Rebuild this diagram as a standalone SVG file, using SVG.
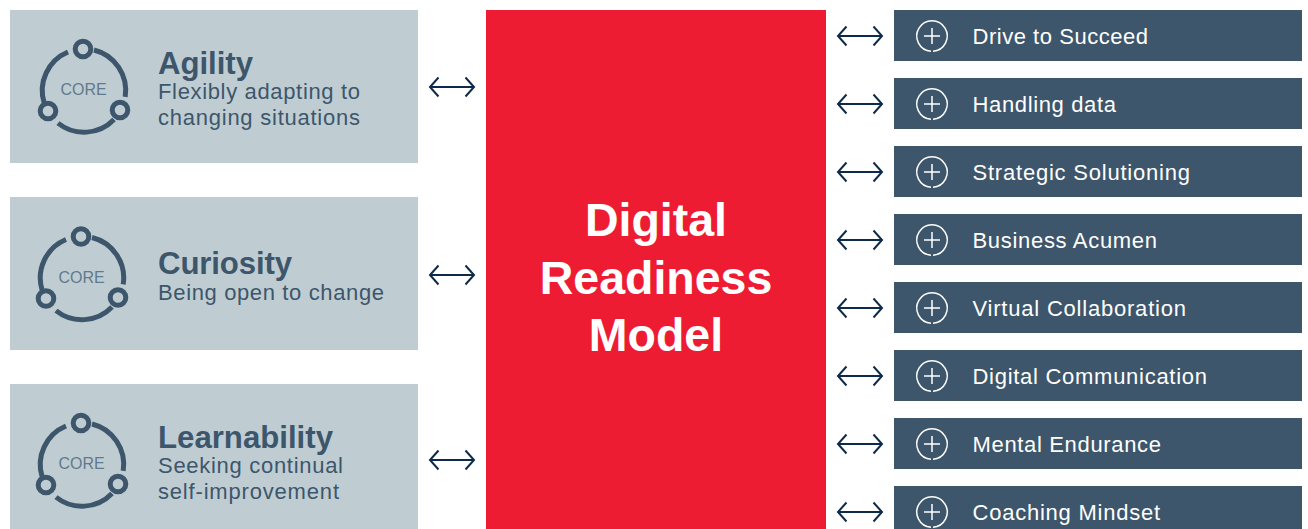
<svg xmlns="http://www.w3.org/2000/svg" xmlns:xlink="http://www.w3.org/1999/xlink" width="1308" height="529" viewBox="0 0 1308 529">
<style>
text{font-family:"Liberation Sans",Arial,sans-serif}
.pale{fill:#bfcdd2}
.dark{fill:#3d566b}
.title{font-size:31.200px;font-weight:700;fill:#3d566b}
.sub{font-size:22px;fill:#3d566b}
.core{font-size:16px;fill:#5f7a8c;text-anchor:middle}
.lab{font-size:22px;fill:#fff}
.big{font-size:46.500px;font-weight:700;fill:#fff;text-anchor:middle}
.ring{fill:none;stroke:#3d566b;stroke-width:5}
.thin{fill:none;stroke:#fff;stroke-width:1.5}
.arr{fill:none;stroke:#0e2a4a;stroke-width:2}
</style>
<defs>
<g id="icon">
<path class="ring" d="M94 50 A41.700 41.700 0 0 1 125.200 96.900"/>
<path class="ring" d="M114 119.500 A41.700 41.700 0 0 1 58 123.100"/>
<path class="ring" d="M44.200 103 A41.700 41.700 0 0 1 68 52"/>
<circle class="ring" cx="83" cy="49" r="7.800"/>
<circle class="ring" cx="48" cy="111" r="7.800"/>
<circle class="ring" cx="120" cy="110" r="7.800"/>
<text class="core" x="83.500" y="95">CORE</text>
</g>
<g id="plus">
<path class="thin" d="M-1 15.200 A15.200 15.200 0 1 1 1 15.200"/>
<path class="thin" d="M-8 0H8M0-8V8"/>
</g>
<path id="arrow" class="arr" d="M9.500-9.500 L1 0 L9.500 9.500 M1 0 H45 M36.500-9.500 L45 0 L36.500 9.500"/>
</defs>
<g id="connectors">
<use xlink:href="#arrow" href="#arrow" x="429" y="87"/>
<use xlink:href="#arrow" href="#arrow" x="429" y="275"/>
<use xlink:href="#arrow" href="#arrow" x="429" y="460"/>
<use xlink:href="#arrow" href="#arrow" x="837" y="36"/>
<use xlink:href="#arrow" href="#arrow" x="837" y="104"/>
<use xlink:href="#arrow" href="#arrow" x="837" y="172"/>
<use xlink:href="#arrow" href="#arrow" x="837" y="240"/>
<use xlink:href="#arrow" href="#arrow" x="837" y="308"/>
<use xlink:href="#arrow" href="#arrow" x="837" y="376"/>
<use xlink:href="#arrow" href="#arrow" x="837" y="444"/>
<use xlink:href="#arrow" href="#arrow" x="837" y="512"/>
</g>
<g id="agility"><rect class="pale" x="10" y="10" width="408" height="153"/><use xlink:href="#icon" href="#icon"/><text class="title" x="158" y="74" textLength="95">Agility</text><text class="sub" x="158" y="99" textLength="202">Flexibly adapting to</text><text class="sub" x="158" y="125" textLength="202">changing situations</text></g>
<g id="curiosity"><rect class="pale" x="10" y="197" width="408" height="153"/><use xlink:href="#icon" href="#icon" x="-2" y="187.500"/><text class="title" x="158" y="274" textLength="134">Curiosity</text><text class="sub" x="158" y="300" textLength="226">Being open to change</text></g>
<g id="learnability"><rect class="pale" x="10" y="384" width="408" height="145"/><use xlink:href="#icon" href="#icon" x="-2" y="374"/><text class="title" x="158" y="448" textLength="175">Learnability</text><text class="sub" x="158" y="473" textLength="185">Seeking continual</text><text class="sub" x="158" y="499" textLength="181">self-improvement</text></g>
<g id="model"><rect x="486" y="10" width="340" height="519" fill="#ee1c32"/><text class="big" x="656" y="236">Digital</text><text class="big" x="656" y="294">Readiness</text><text class="big" x="656" y="351">Model</text></g>
<g id="drive"><rect class="dark" x="894" y="10" width="408" height="51"/><use xlink:href="#plus" href="#plus" x="932" y="36"/><text class="lab" x="972.500" y="44" textLength="175.500">Drive to Succeed</text></g>
<g id="data"><rect class="dark" x="894" y="78" width="408" height="51"/><use xlink:href="#plus" href="#plus" x="932" y="104"/><text class="lab" x="972.500" y="112" textLength="143.500">Handling data</text></g>
<g id="strategic"><rect class="dark" x="894" y="146" width="408" height="51"/><use xlink:href="#plus" href="#plus" x="932" y="172"/><text class="lab" x="972.500" y="180" textLength="217.500">Strategic Solutioning</text></g>
<g id="business"><rect class="dark" x="894" y="214" width="408" height="51"/><use xlink:href="#plus" href="#plus" x="932" y="240"/><text class="lab" x="972.500" y="248" textLength="184.500">Business Acumen</text></g>
<g id="virtual"><rect class="dark" x="894" y="282" width="408" height="51"/><use xlink:href="#plus" href="#plus" x="932" y="308"/><text class="lab" x="972.500" y="316" textLength="213.500">Virtual Collaboration</text></g>
<g id="communication"><rect class="dark" x="894" y="350" width="408" height="51"/><use xlink:href="#plus" href="#plus" x="932" y="376"/><text class="lab" x="972.500" y="384" textLength="234.500">Digital Communication</text></g>
<g id="endurance"><rect class="dark" x="894" y="418" width="408" height="51"/><use xlink:href="#plus" href="#plus" x="932" y="444"/><text class="lab" x="972.500" y="452" textLength="188.500">Mental Endurance</text></g>
<g id="coaching"><rect class="dark" x="894" y="486" width="408" height="43"/><use xlink:href="#plus" href="#plus" x="932" y="512"/><text class="lab" x="972.500" y="520" textLength="187.500">Coaching Mindset</text></g>
</svg>
